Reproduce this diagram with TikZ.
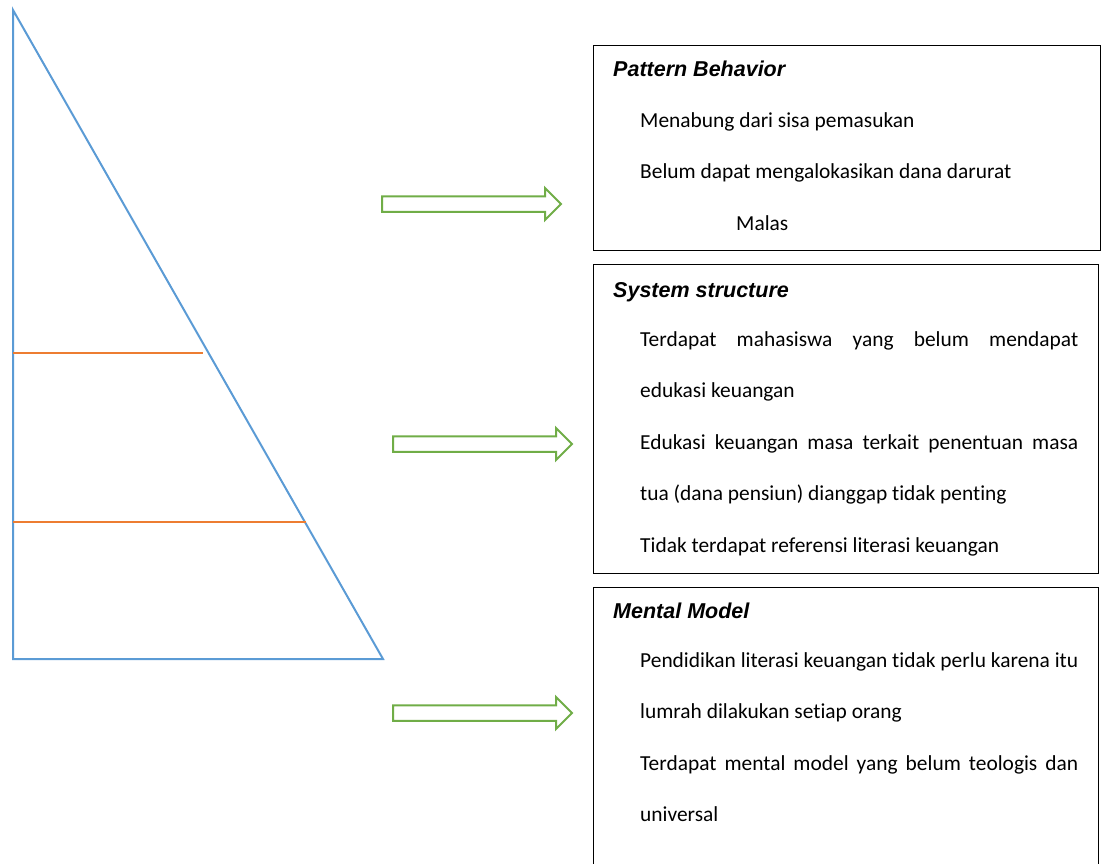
\documentclass[tikz,border=0pt]{standalone}
\usepackage{fontspec}
\setmainfont{Carlito}[RawFeature={-liga;-clig;-dlig}]
\newfontfamily\headfont{Liberation Sans}
\usepackage{xcolor}
\usepackage{tikz}
\definecolor{triblue}{HTML}{5B9BD5}
\definecolor{levelorange}{HTML}{ED7D31}
\definecolor{arrowgreen}{HTML}{70AD47}
\hyphenpenalty=10000
\exhyphenpenalty=10000

\begin{document}
\begin{tikzpicture}[x=1pt,y=-1pt,
    panel/.style={draw=black, line width=1.3pt, rectangle, inner sep=0pt, anchor=north west},
    heading/.style={anchor=base west, inner sep=0pt, font=\headfont\bfseries\itshape\fontsize{21.5}{26}\selectfont},
    body/.style={anchor=base west, inner sep=0pt, text width=438pt, align=justify,
        font=\fontsize{21.4}{51.5}\selectfont},
    tri/.style={draw=triblue, line width=2pt, line join=miter},
    level/.style={draw=levelorange, line width=2pt},
    blockarrow/.style={draw=arrowgreen, line width=2pt, fill=white, line join=miter}]
    \clip (0,0) rectangle (1102,863);

    % pyramid
    \coordinate (apex) at (13,10);
    \coordinate (baseL) at (13,659);
    \coordinate (baseR) at (383,659);
    \draw[tri] (apex) -- (baseL) -- (baseR) -- cycle;
    \draw[level] (13,353) -- (203,353);
    \draw[level] (13,522) -- (306,522);

    % boxes
    \node[panel, minimum width=507pt, minimum height=205pt] (behavior) at (593,45) {};
    \node[panel, minimum width=505pt, minimum height=309pt] (structure) at (593,264) {};
    \node[panel, minimum width=505pt, minimum height=290pt] (mental) at (593,587) {};

    \node[heading] (behaviorhead) at (613,76.5) {Pattern Behavior};
    \node[body] (behaviortext) at (640,127.3) {Menabung dari sisa pemasukan\par
        Belum dapat mengalokasikan dana darurat\par
        \hspace*{96pt}Malas};

    \node[heading] (structurehead) at (613,297) {System structure};
    \node[body] (structuretext) at (640,346) {Terdapat mahasiswa yang belum mendapat\linebreak edukasi keuangan\par
        Edukasi keuangan masa terkait penentuan masa\linebreak tua (dana pensiun) dianggap tidak penting\par
        Tidak terdapat referensi literasi keuangan};

    \node[heading] (mentalhead) at (613,618.5) {Mental Model};
    \node[body] (mentaltext) at (640,667.3) {Pendidikan literasi keuangan tidak perlu karena itu\linebreak lumrah dilakukan setiap orang\par
        Terdapat mental model yang belum teologis dan\linebreak universal};

    % arrows
    \foreach \ax/\ay in {382/204, 393/444, 393/713}
        \draw[blockarrow] (\ax,\ay-7.75) -- ++(163,0) -- ++(0,-8.25) -- ++(16,16) -- ++(-16,16) -- ++(0,-8.25) -- ++(-163,0) -- cycle;
\end{tikzpicture}
\end{document}
